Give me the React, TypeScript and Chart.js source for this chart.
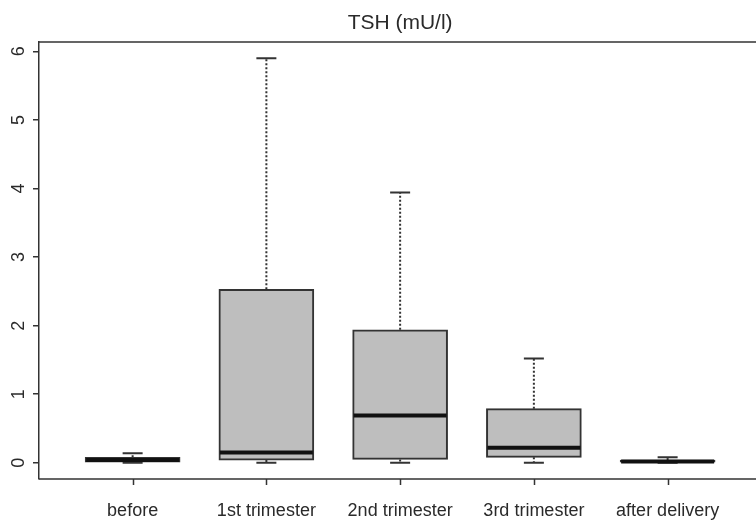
import React, { useEffect, useRef } from "react";
import { Chart, registerables } from "chart.js";

Chart.register(...registerables);

const title = "TSH (mU/l)";
const categories = ["before", "1st trimester", "2nd trimester", "3rd trimester", "after delivery"];
const whiskerLow = [0, 0, 0, 0, 0];
const q1 = [0.0, 0.04, 0.05, 0.08, 0.0];
const median = [0.04, 0.15, 0.69, 0.22, 0.02];
const q3 = [0.08, 2.53, 1.94, 0.79, 0.04];
const whiskerHigh = [0.14, 5.9, 3.94, 1.52, 0.08];
const yTicks = [0, 1, 2, 3, 4, 5, 6];
const xPositions = [1, 2, 3, 4, 5];

const FONT = '"Liberation Sans", Arial, sans-serif';
const TEXT = "#2a2a2a";
const LINE = "#333333";

const boxPlugin = {
  id: "boxExtras",
  afterDatasetsDraw(chart: any) {
    const { ctx } = chart;
    const xs = chart.scales.x;
    const ys = chart.scales.y;
    const meta = chart.getDatasetMeta(0);
    ctx.save();
    categories.forEach((_, i) => {
      const bar = meta.data[i];
      const cx = xs.getPixelForValue(xPositions[i]);
      const half = bar ? bar.width / 2 : 47;
      const capHalf = 10;
      const yLo = ys.getPixelForValue(whiskerLow[i]);
      const yHi = ys.getPixelForValue(whiskerHigh[i]);
      const yQ1 = ys.getPixelForValue(q1[i]);
      const yQ3 = ys.getPixelForValue(q3[i]);
      const yMed = ys.getPixelForValue(median[i]);
      ctx.strokeStyle = LINE;
      ctx.lineWidth = 2;
      ctx.setLineDash([2, 2]);
      ctx.beginPath();
      ctx.moveTo(cx, yQ3);
      ctx.lineTo(cx, yHi);
      ctx.moveTo(cx, yQ1);
      ctx.lineTo(cx, yLo);
      ctx.stroke();
      ctx.setLineDash([]);
      ctx.beginPath();
      ctx.moveTo(cx - capHalf, yHi);
      ctx.lineTo(cx + capHalf, yHi);
      ctx.moveTo(cx - capHalf, yLo);
      ctx.lineTo(cx + capHalf, yLo);
      ctx.stroke();
      ctx.strokeStyle = "#111";
      ctx.lineWidth = 4;
      ctx.beginPath();
      ctx.moveTo(cx - half + 1, yMed);
      ctx.lineTo(cx + half - 1, yMed);
      ctx.stroke();
    });
    ctx.restore();
  },
  afterDraw(chart: any) {
    const { ctx, chartArea } = chart;
    const xs = chart.scales.x;
    const ys = chart.scales.y;
    ctx.save();
    ctx.strokeStyle = LINE;
    ctx.lineWidth = 1.5;
    ctx.beginPath();
    // top and bottom frame lines (right side lies beyond the canvas)
    ctx.moveTo(chartArea.left, chartArea.top);
    ctx.lineTo(chart.width + 2, chartArea.top);
    ctx.moveTo(chartArea.left, chartArea.bottom);
    ctx.lineTo(chart.width + 2, chartArea.bottom);
    // x tick marks
    xPositions.forEach((v) => {
      const px = Math.round(xs.getPixelForValue(v)) + 0.5;
      ctx.moveTo(px, chartArea.bottom);
      ctx.lineTo(px, chartArea.bottom + 6);
    });
    ctx.stroke();
    ctx.fillStyle = TEXT;
    ctx.font = "18px " + FONT;
    ctx.textAlign = "center";
    ctx.textBaseline = "alphabetic";
    yTicks.forEach((v) => {
      ctx.save();
      ctx.translate(24, ys.getPixelForValue(v));
      ctx.rotate(-Math.PI / 2);
      ctx.fillText(String(v), 0, 0);
      ctx.restore();
    });
    ctx.font = "21px " + FONT;
    ctx.textAlign = "center";
    ctx.fillText(title, xs.getPixelForValue(3), 29);
    ctx.restore();
  },
};

export default function App() {
  const ref = useRef<HTMLCanvasElement | null>(null);
  useEffect(() => {
    document.body.style.margin = "0";
    const canvas = ref.current!;
    const chart = new Chart(canvas, {
      type: "bar",
      data: {
        datasets: [
          {
            data: categories.map((_, i) => ({ x: xPositions[i], y: [q1[i], q3[i]] })) as any,
            backgroundColor: "#bebebe",
            borderColor: LINE,
            borderWidth: 2,
            borderSkipped: false,
            barThickness: 95,
          },
        ],
      },
      options: {
        animation: false,
        responsive: false,
        devicePixelRatio: 1,
        layout: { padding: { top: 42, left: 0, right: 0, bottom: 0 } },
        plugins: {
          legend: { display: false },
          tooltip: { enabled: false },
          title: { display: false },
        },
        scales: {
          x: {
            type: "linear",
            offset: false,
            min: 0.3,
            max: 0.3 + (756 - 39) / 133.75,
            afterBuildTicks: (s: any) => {
              s.ticks = xPositions.map((v) => ({ value: v }));
            },
            afterFit: (s: any) => {
              s.height = 42;
            },
            grid: { display: false, drawTicks: false },
            border: { display: false },
            ticks: {
              autoSkip: false,
              maxRotation: 0,
              minRotation: 0,
              padding: 21,
              color: TEXT,
              font: { family: FONT, size: 18 },
              callback: (v: any) => categories[Math.round(Number(v)) - 1] ?? "",
            },
          },
          y: {
            type: "linear",
            min: -0.236,
            max: 6.136,
            afterBuildTicks: (s: any) => {
              s.ticks = yTicks.map((v) => ({ value: v }));
            },
            afterFit: (s: any) => {
              s.width = 39;
            },
            grid: { drawOnChartArea: false, drawTicks: true, tickLength: 6, color: LINE, lineWidth: 1.5 },
            border: { display: true, color: LINE, width: 1.5 },
            ticks: { display: false },
          },
        },
      },
      plugins: [boxPlugin],
    });
    return () => chart.destroy();
  }, []);
  return (
    <div style={{ position: "absolute", left: 0, top: 0, width: 756, height: 521, overflow: "hidden", background: "#fff" }}>
      <canvas ref={ref} width={756} height={521} style={{ width: 756, height: 521, display: "block" }} />
    </div>
  );
}
